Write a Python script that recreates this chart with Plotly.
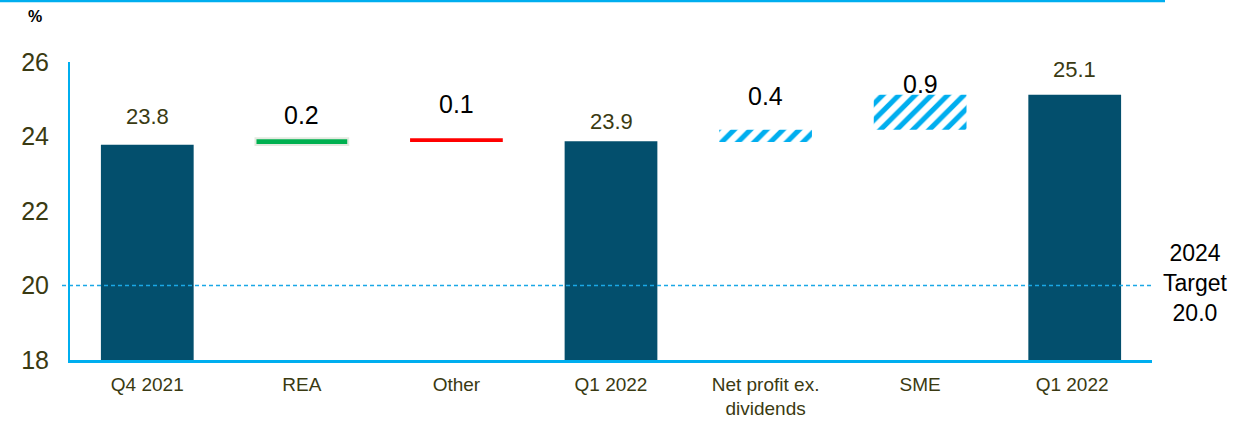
import plotly.graph_objects as go

categories = ["Q4 2021", "REA", "Other", "Q1 2022", "Net profit ex.<br>dividends", "SME", "Q1 2022 "]
bar_low = [18.0, 23.77, 23.85, 18.0, 23.85, 24.18, 18.0]
bar_high = [23.78, 23.95, 23.95, 23.87, 24.18, 25.12, 25.12]
value_labels = ["23.8", "0.2", "0.1", "23.9", "0.4", "0.9", "25.1"]
is_total = [True, False, False, True, False, False, True]
target_value = 20.0
target_text = "2024<br>Target<br>20.0"
y_ticks = [18, 20, 22, 24, 26]

DARK = "#034F6D"
CYAN = "#00AEEF"
OLIVE = "#3A3A12"
FONT = "Arial, Liberation Sans, sans-serif"
fill_colors = [DARK, "#00B050", "#FF0000", DARK, CYAN, CYAN, DARK]
pattern_shapes = ["", "", "", "", "/", "/", ""]
line_colors = [DARK, "#E4EAE0", "#FF0000", DARK, CYAN, CYAN, DARK]
line_widths = [0, 2, 0, 0, 0, 0, 0]
label_shift = [28, 23, 34, 20, 34, 11, 25]

heights = [h - l for h, l in zip(bar_high, bar_low)]

# plot area geometry (pixels)
W, H = 1234, 421
ML, MR, MT, MB = 70, 82, 62, 61
PW, PH = W - ML - MR, H - MT - MB

fig = go.Figure()
fig.add_trace(go.Bar(
    x=categories, y=heights, base=bar_low, width=0.6,
    marker=dict(color=fill_colors,
                line=dict(color=line_colors, width=line_widths),
                pattern=dict(shape=pattern_shapes, size=11.5, solidity=0.45,
                             fillmode="replace")),
    hoverinfo="skip", showlegend=False,
))

for cat, top, lab, tot, sh in zip(categories, bar_high, value_labels, is_total, label_shift):
    fig.add_annotation(x=cat, y=top, text=lab, showarrow=False, yshift=sh,
                       xanchor="center", yanchor="middle",
                       font=dict(family=FONT, size=22 if tot else 25,
                                 color=OLIVE if tot else "black"))

# target dashed line
fig.add_shape(type="line", xref="paper", yref="y", x0=-8 / PW, x1=1.0,
              y0=target_value, y1=target_value,
              line=dict(color="#1AA8E6", width=1.5, dash="4px,3px"))
fig.add_annotation(xref="paper", yref="y", x=(1195 - ML) / PW, y=target_value, text=target_text,
                   showarrow=False, xanchor="center", yanchor="middle", yshift=3,
                   font=dict(family=FONT, size=23, color="black"))

# top rule line
fig.add_shape(type="line", xref="paper", yref="paper", x0=-ML / PW, x1=(1165 - ML) / PW,
              y0=1 + (MT - 1) / PH, y1=1 + (MT - 1) / PH, line=dict(color=CYAN, width=2.5))
fig.add_annotation(xref="paper", yref="paper", x=(35 - ML) / PW, y=1 + (MT - 17) / PH,
                   text="<b>%</b>", showarrow=False, xanchor="center", yanchor="middle",
                   font=dict(family=FONT, size=16, color="black"))

fig.update_layout(
    width=W, height=H,
    margin=dict(l=ML, r=MR, t=MT, b=MB),
    plot_bgcolor="white", paper_bgcolor="white",
    font=dict(family=FONT),
)
fig.update_xaxes(showline=True, linecolor=CYAN, linewidth=2.5, showgrid=False, ticks="",
                 tickfont=dict(size=19, color=OLIVE), ticklabelstandoff=5,
                 automargin=False, fixedrange=True)
fig.update_yaxes(range=[18, 26], tickvals=y_ticks, showline=True, linecolor=CYAN, linewidth=2,
                 showgrid=False, zeroline=False, ticks="",
                 tickfont=dict(size=25, color=OLIVE), ticklabelstandoff=14,
                 automargin=False, fixedrange=True)

fig.write_html("out.html", config={"displayModeBar": False},
               post_script="document.body.style.margin='0px';")
